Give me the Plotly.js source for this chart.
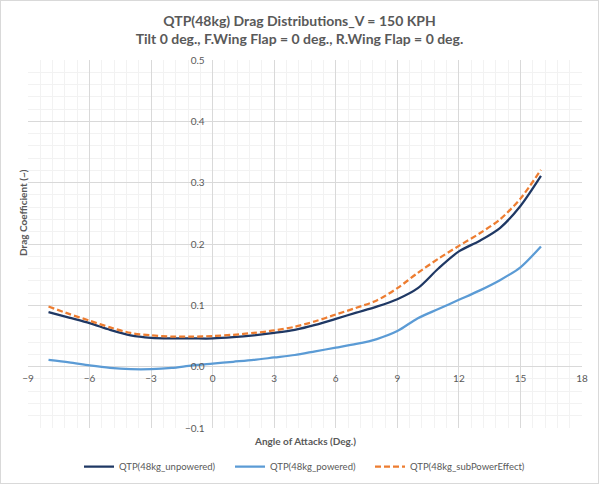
<!DOCTYPE html>
<html>
<head>
<meta charset="utf-8">
<script src="https://cdn.plot.ly/plotly-3.0.1.min.js"></script>
<style>
html,body{margin:0;padding:0;background:#fff;}
#wrap{width:599px;height:484px;box-sizing:border-box;border:1px solid #d9d9d9;overflow:hidden;}
#chart{width:597px;height:482px;}
</style>
</head>
<body>
<div id="wrap"><div id="chart"></div></div>
<script>
const angles = [-8,-7,-6,-5,-4,-3,-2,-1,0,1,2,3,4,5,6,7,8,9,10,11,12,13,14,15,16];
const unpowered = [0.089,0.080,0.071,0.060,0.051,0.047,0.046,0.046,0.046,0.048,0.051,0.055,0.060,0.068,0.078,0.088,0.098,0.110,0.128,0.160,0.188,0.205,0.226,0.262,0.311];
const powered = [0.011,0.007,0.002,-0.002,-0.004,-0.004,-0.002,0.002,0.005,0.008,0.011,0.015,0.019,0.025,0.031,0.037,0.045,0.058,0.079,0.094,0.109,0.124,0.141,0.162,0.196];
const subPowerEffect = [0.098,0.086,0.075,0.064,0.055,0.051,0.049,0.049,0.050,0.052,0.055,0.059,0.065,0.074,0.085,0.096,0.108,0.128,0.153,0.176,0.197,0.217,0.240,0.274,0.321];
const seriesNames = ['QTP(48kg_unpowered)','QTP(48kg_powered)','QTP(48kg_subPowerEffect)'];
const titleLines = ['QTP(48kg) Drag Distributions_V = 150 KPH','Tilt 0 deg., F.Wing Flap = 0 deg., R.Wing Flap = 0 deg.'];
const xTitle = 'Angle of Attacks (Deg.)';
const yTitle = 'Drag Coefficient (~)';

const FONT = 'Lato, "Open Sans", "DejaVu Sans", sans-serif';
const GRAY = '#595959';

const traces = [
  {x: angles, y: unpowered, name: seriesNames[0], mode: 'lines', legend: 'legend',
   line: {color: '#1F3864', width: 2.25, shape: 'spline', smoothing: 0.8}},
  {x: angles, y: powered, name: seriesNames[1], mode: 'lines', legend: 'legend2',
   line: {color: '#5B9BD5', width: 2.25, shape: 'spline', smoothing: 0.8}},
  {x: angles, y: subPowerEffect, name: seriesNames[2], mode: 'lines', legend: 'legend3',
   line: {color: '#ED7D31', width: 2.25, dash: '6px,3px', shape: 'spline', smoothing: 0.8}}
];

const legendBase = (px) => ({orientation: 'h', x: (px - 27)/554, xanchor: 'left', y: -0.105, yanchor: 'middle',
  itemwidth: 30, font: {family: FONT, size: 9.5, color: GRAY}, bgcolor: 'rgba(0,0,0,0)', borderwidth: 0});

const layout = {
  width: 597, height: 482,
  margin: {l: 27, r: 16, t: 59, b: 55, pad: 0, autoexpand: false},
  paper_bgcolor: '#fff', plot_bgcolor: '#fff',
  font: {family: FONT, color: GRAY, size: 10},
  title: {text: '<b>' + titleLines[0] + '</b><br><b>' + titleLines[1] + '</b>',
          font: {family: FONT, size: 14, color: GRAY},
          x: 0.5, xanchor: 'center', yref: 'container', y: 1 - 25/482, yanchor: 'middle'},
  xaxis: {range: [-9, 18], dtick: 3, tick0: -9, showgrid: true, gridcolor: '#D9D9D9', gridwidth: 1,
          minor: {dtick: 0.6, showgrid: true, gridcolor: '#F2F2F2', gridwidth: 1},
          zeroline: true, zerolinecolor: '#D9D9D9', zerolinewidth: 1,
          anchor: 'free', position: 1/6, showline: false, ticks: '', ticklabelstandoff: 4,
          tickfont: {family: FONT, size: 10, color: GRAY}, fixedrange: true},
  yaxis: {range: [-0.1, 0.5], dtick: 0.1, tick0: 0, tickformat: '.1f', showgrid: true,
          gridcolor: '#D9D9D9', gridwidth: 1,
          minor: {dtick: 0.02, showgrid: true, gridcolor: '#F2F2F2', gridwidth: 1},
          zeroline: true, zerolinecolor: '#D9D9D9', zerolinewidth: 1,
          anchor: 'free', position: 1/3, showline: false, ticks: '', ticklabelstandoff: 8,
          tickfont: {family: FONT, size: 10, color: GRAY}, fixedrange: true},
  showlegend: true,
  legend: legendBase(78),
  legend2: legendBase(229),
  legend3: legendBase(369),
  annotations: [
    {text: '<b>' + xTitle + '</b>', xref: 'paper', yref: 'paper', x: (304 - 27)/554, y: -(440 - 427)/368,
     showarrow: false, xanchor: 'center', yanchor: 'middle', font: {family: FONT, size: 10, color: GRAY}},
    {text: '<b>' + yTitle + '</b>', xref: 'paper', yref: 'paper', x: (22 - 27)/554, y: (427 - 212)/368,
     showarrow: false, textangle: -90, xanchor: 'center', yanchor: 'middle', font: {family: FONT, size: 10, color: GRAY}}
  ]
};

Plotly.newPlot('chart', traces, layout, {displayModeBar: false, staticPlot: true});
</script>
</body>
</html>
